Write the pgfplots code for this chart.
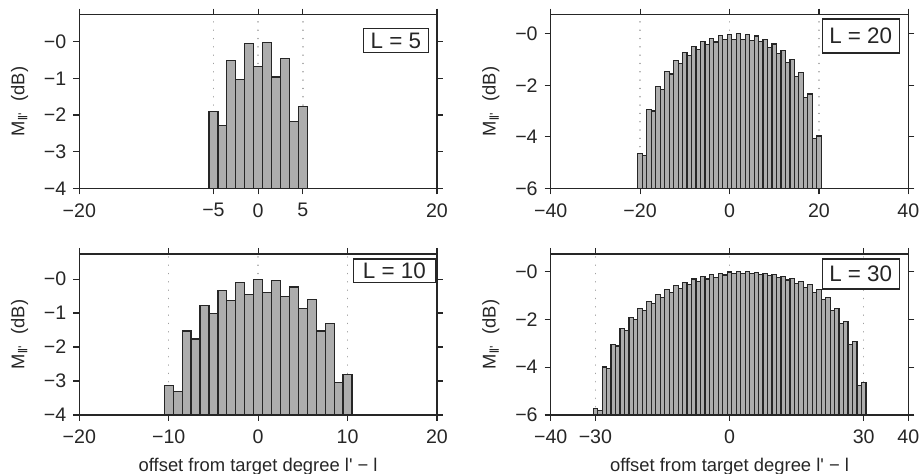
\documentclass[border=0pt]{standalone}
\usepackage{fontspec}
\setmainfont{Liberation Sans}[Ligatures=TeXOff]
\usepackage{pgfplots}
\usepackage{pgfplotstable}
\pgfplotsset{compat=1.18}

\definecolor{barfill}{gray}{0.68}
\definecolor{ink}{gray}{0.15}

% coupling strength M_{ll'} (dB) against offset l'-l
\pgfplotstableread{
off val
-5 -1.90
-4 -2.29
-3 -0.52
-2 -1.02
-1 -0.05
0 -0.68
1 -0.01
2 -0.96
3 -0.45
4 -2.18
5 -1.76
}\tabFive

\pgfplotstableread{
off val
-10 -3.13
-9 -3.31
-8 -1.53
-7 -1.76
-6 -0.77
-5 -1.02
-4 -0.33
-3 -0.63
-2 -0.10
-1 -0.45
0 -0.01
1 -0.40
2 -0.04
3 -0.52
4 -0.23
5 -0.87
6 -0.61
7 -1.53
8 -1.30
9 -3.05
10 -2.80
}\tabTen

\pgfplotstableread{
off val
-20 -4.64
-19 -4.73
-18 -2.93
-17 -3.00
-16 -2.06
-15 -2.15
-14 -1.47
-13 -1.56
-12 -1.03
-11 -1.15
-10 -0.72
-9 -0.83
-8 -0.49
-7 -0.61
-6 -0.30
-5 -0.43
-4 -0.18
-3 -0.32
-2 -0.08
-1 -0.22
0 -0.02
1 -0.22
2 0.00
3 -0.22
4 -0.04
5 -0.25
6 -0.09
7 -0.31
8 -0.22
9 -0.52
10 -0.40
11 -0.77
12 -0.64
13 -1.12
14 -1.01
15 -1.65
16 -1.52
17 -2.47
18 -2.34
19 -4.08
20 -3.97
}\tabTwenty

\pgfplotstableread{
off val
-30 -5.73
-29 -5.80
-28 -3.99
-27 -4.06
-26 -3.05
-25 -3.11
-24 -2.39
-23 -2.46
-22 -1.91
-21 -2.01
-20 -1.53
-19 -1.61
-18 -1.24
-17 -1.32
-16 -0.97
-15 -1.07
-14 -0.76
-13 -0.86
-12 -0.59
-11 -0.69
-10 -0.44
-9 -0.53
-8 -0.31
-7 -0.41
-6 -0.21
-5 -0.31
-4 -0.13
-3 -0.24
-2 -0.06
-1 -0.14
0 -0.01
1 -0.08
2 0.00
3 -0.08
4 0.00
5 -0.08
6 -0.03
7 -0.11
8 -0.06
9 -0.17
10 -0.11
11 -0.25
12 -0.20
13 -0.35
14 -0.30
15 -0.48
16 -0.41
17 -0.65
18 -0.55
19 -0.86
20 -0.76
21 -1.18
22 -1.08
23 -1.62
24 -1.53
25 -2.16
26 -2.07
27 -3.04
28 -2.94
29 -4.76
30 -4.64
}\tabThirty

\pgfplotsset{
  panel/.style={
    scale only axis,
    width=178.85pt,
    anchor=south west,
    axis line style={ink, line width=0.7pt},
    every tick/.style={ink, line width=0.6pt},
    major tick length=3pt,
    tick align=outside,
    tick pos=both,
    ticklabel style={font=\fontsize{9.8}{11}\selectfont, text=ink},
    xticklabel style={yshift=-1pt},
    label style={font=\fontsize{9.2}{11}\selectfont, text=ink},
    ylabel={M\textsubscript{ll'}\ \ (dB)},
    ylabel style={at={(axis description cs:-0.167,0.5)}, anchor=center},
    xlabel style={yshift=-0.5pt},
    ymax=0.74,
  },
  % bars rise from the bottom of the axis, not from zero
  floor4/.style={
    ymin=-4,
    y coord trafo/.code={\pgfmathparse{##1+4}},
    y coord inv trafo/.code={\pgfmathparse{##1-4}},
    ytick={-4,-3,-2,-1,0},
    yticklabels={−4,−3,−2,−1,−0},
  },
  floor6/.style={
    ymin=-6,
    y coord trafo/.code={\pgfmathparse{##1+6}},
    y coord inv trafo/.code={\pgfmathparse{##1-6}},
    ytick={-6,-4,-2,0},
    yticklabels={−6,−4,−2,−0},
  },
  bars/.style={ybar, bar width=1, fill=barfill, draw=black!85, line width=0.6pt},
  guide/.style={draw=gray!75, line width=0.75pt, line cap=round,
    dash pattern=on 0.01pt off 4.15pt},
}
\tikzset{
  Lbox/.style={draw=ink, line width=0.6pt, fill=white, inner sep=0pt,
    anchor=north east, text=ink, font=\fontsize{11.2}{13}\selectfont},
}

\begin{document}
\begin{tikzpicture}
\useasboundingbox (0,0) rectangle (461.5pt,237pt);

% L = 5
\begin{axis}[panel, floor4, at={(39.65pt,142.85pt)}, height=86.8pt,
  xmin=-20, xmax=20, xtick={-20,-5,0,5,20},
  xticklabels={−20,−5,0,5,20}]
  \addplot[guide] coordinates {(-5,-4) (-5,0.74)};
  \addplot[guide] coordinates {(0,-4) (0,0.74)};
  \addplot[guide] coordinates {(5,-4) (5,0.74)};
  \addplot[bars] table[x=off, y=val] {\tabFive};
  \node[Lbox, minimum width=32.5pt, minimum height=12pt]
    at (rel axis cs:0.9776,0.9217) {L = 5};
\end{axis}

% L = 20
\begin{axis}[panel, floor6, at={(275.35pt,142.85pt)}, height=86.8pt,
  xmin=-40, xmax=40, xtick={-40,-20,0,20,40},
  xticklabels={−40,−20,0,20,40}]
  \addplot[guide] coordinates {(-20,-6) (-20,0.74)};
  \addplot[guide] coordinates {(0,-6) (0,0.74)};
  \addplot[guide] coordinates {(20,-6) (20,0.74)};
  \addplot[bars] table[x=off, y=val] {\tabTwenty};
  \node[Lbox, minimum width=38.5pt, minimum height=17pt]
    at (rel axis cs:0.976,0.979) {L = 20};
\end{axis}

% L = 10
\begin{axis}[panel, floor4, at={(39.65pt,29.5pt)}, height=80.5pt,
  xmin=-20, xmax=20, xtick={-20,-10,0,10,20},
  xticklabels={−20,−10,0,10,20},
  xlabel={offset from target degree l' − l}]
  \addplot[guide] coordinates {(-10,-4) (-10,0.74)};
  \addplot[guide] coordinates {(0,-4) (0,0.74)};
  \addplot[guide] coordinates {(10,-4) (10,0.74)};
  \addplot[bars] table[x=off, y=val] {\tabTen};
  \node[Lbox, minimum width=41pt, minimum height=11.7pt]
    at (rel axis cs:0.997,0.973) {L = 10};
\end{axis}

% L = 30
\begin{axis}[panel, floor6, at={(275.35pt,29.5pt)}, height=80.5pt,
  xmin=-40, xmax=40, xtick={-40,-30,0,30,40},
  xticklabels={−40,−30,0,30,40},
  xlabel={offset from target degree l' − l}]
  \addplot[guide] coordinates {(-30,-6) (-30,0.74)};
  \addplot[guide] coordinates {(0,-6) (0,0.74)};
  \addplot[guide] coordinates {(30,-6) (30,0.74)};
  \addplot[bars] table[x=off, y=val] {\tabThirty};
  \node[Lbox, minimum width=38.5pt, minimum height=15pt]
    at (rel axis cs:0.976,0.973) {L = 30};
\end{axis}
\end{tikzpicture}
\end{document}
